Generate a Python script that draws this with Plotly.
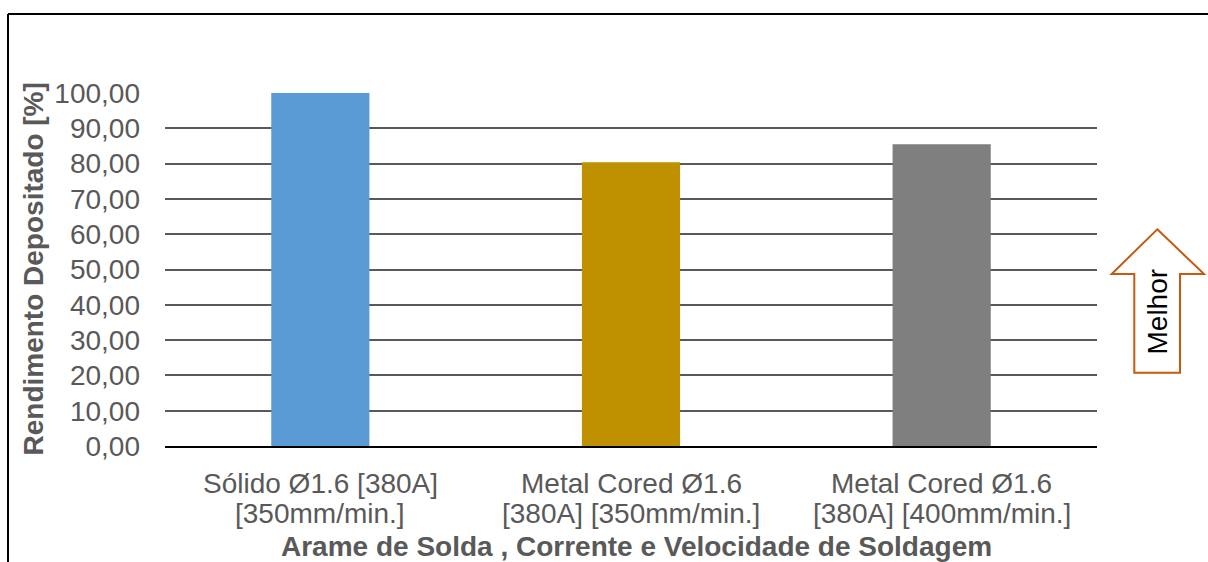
import plotly.graph_objects as go

categories = [
    "Sólido Ø1.6 [380A]<br>[350mm/min.]",
    "Metal Cored Ø1.6<br>[380A] [350mm/min.]",
    "Metal Cored Ø1.6<br>[380A] [400mm/min.]",
]
values = [100.0, 80.4, 85.5]
bar_colors = ["#5B9BD5", "#BF9000", "#7F7F7F"]
y_ticks = [0, 10, 20, 30, 40, 50, 60, 70, 80, 90, 100]

FONT = "Arial, 'Liberation Sans', sans-serif"
GRAY = "#595959"

W, H = 1208, 562
L, R, T, B = 165, 111, 93, 116
PW, PH = W - L - R, H - T - B


def px(x):
    return (x - L) / PW


def py(y):
    return (H - B - y) / PH


fig = go.Figure()
fig.add_trace(go.Bar(
    x=categories, y=values,
    marker=dict(color=bar_colors, line=dict(width=0)),
    hoverinfo="y",
))

fig.update_layout(
    width=W, height=H,
    margin=dict(l=L, r=R, t=T, b=B, autoexpand=False),
    paper_bgcolor="white", plot_bgcolor="white",
    separators=",.",
    bargap=0.684,
    showlegend=False,
    font=dict(family=FONT, size=28, color=GRAY),
    xaxis=dict(
        showline=True, linecolor="black", linewidth=2,
        showgrid=False, ticks="", showticklabels=False,
        automargin=False,
    ),
    yaxis=dict(
        range=[0, 100], tickvals=y_ticks, tickformat=".2f",
        showgrid=True, gridcolor=GRAY, gridwidth=1.6,
        zeroline=False, showline=False, ticks="",
        ticklabelstandoff=24,
        tickfont=dict(size=28, color=GRAY),
        automargin=False,
    ),
)

# category labels (two lines each), positioned on the category axis
for cat in categories:
    lines = cat.split("<br>")
    for i, ln in enumerate(lines):
        fig.add_annotation(
            text=ln, xref="x", yref="paper", x=cat, y=py(483 + 30 * i),
            showarrow=False, xanchor="center", yanchor="middle",
            font=dict(size=28, color=GRAY, family=FONT),
        )

# axis titles
fig.add_annotation(
    text="<b>Rendimento Depositado [%]</b>", xref="paper", yref="paper",
    x=px(33), y=0.5, textangle=-90, showarrow=False,
    xanchor="center", yanchor="middle",
    font=dict(size=28, color=GRAY, family=FONT),
)
fig.add_annotation(
    text="<b>Arame de Solda , Corrente e Velocidade de Soldagem</b>",
    xref="paper", yref="paper", x=px(636), y=py(546), showarrow=False,
    xanchor="center", yanchor="middle",
    font=dict(size=28, color=GRAY, family=FONT),
)

# "Melhor" arrow
pts = [(1157.3, 229.3), (1204, 274), (1180, 274), (1180, 372.7),
       (1134.3, 372.7), (1134.3, 274), (1111.7, 274)]
path = "M " + " L ".join(f"{px(a):.5f},{py(b):.5f}" for a, b in pts) + " Z"
fig.add_shape(type="path", path=path, xref="paper", yref="paper",
              line=dict(color="#C55A11", width=2), fillcolor="white", layer="above")
fig.add_annotation(
    text="Melhor", xref="paper", yref="paper", x=px(1157), y=py(311.5),
    textangle=-90, showarrow=False, xanchor="center", yanchor="middle",
    font=dict(size=28, color="black", family=FONT),
)

# chart border (left and top visible)
fig.add_shape(type="line", xref="paper", yref="paper",
              x0=px(8), x1=px(8), y0=py(14), y1=py(600),
              line=dict(color="black", width=2))
fig.add_shape(type="line", xref="paper", yref="paper",
              x0=px(8), x1=px(1250), y0=py(14), y1=py(14),
              line=dict(color="black", width=2))

fig.write_html("out.html")
